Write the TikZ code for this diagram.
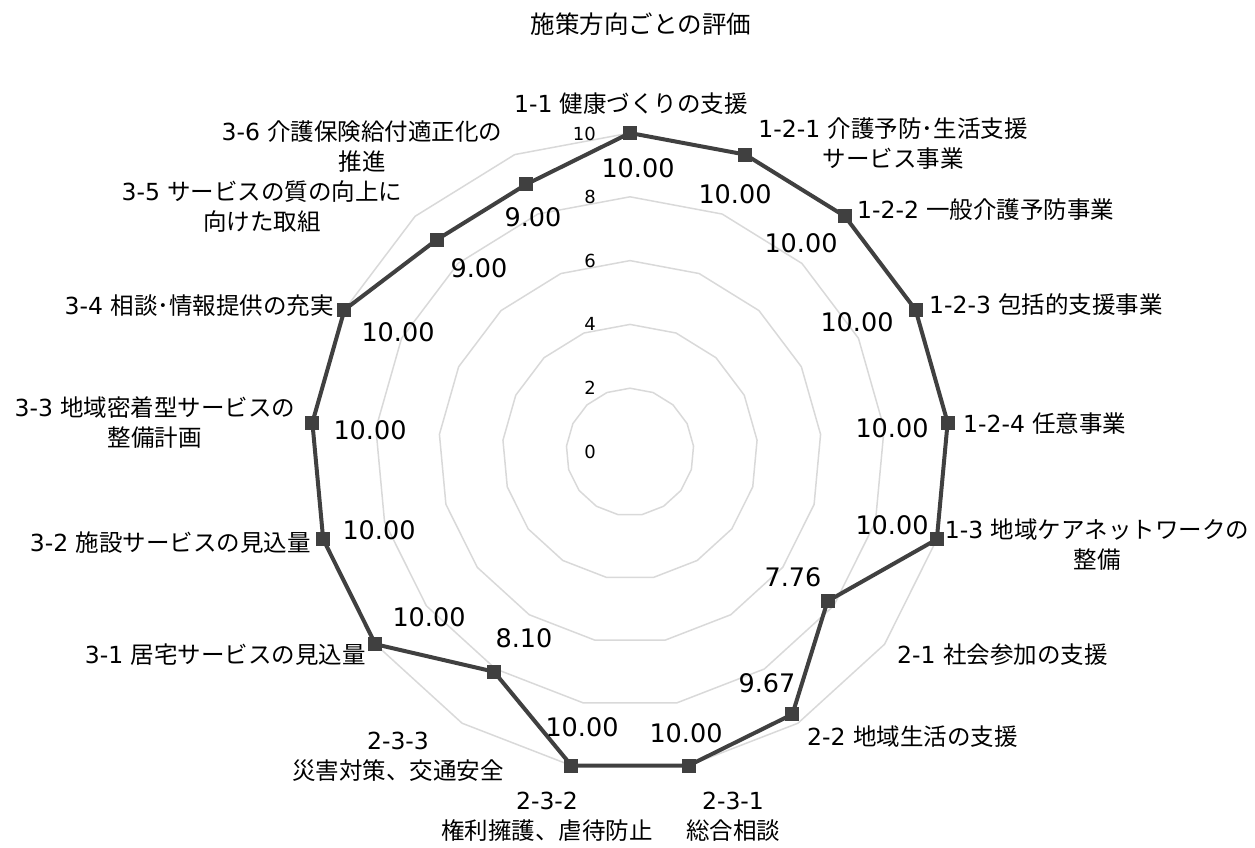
\documentclass[tikz,border=0pt]{standalone}
\usepackage{fontspec}
\setmainfont{DejaVu Sans}
\newfontfamily\jp{Noto Sans CJK JP}
\definecolor{gridc}{HTML}{D9D9D9}
\definecolor{datac}{HTML}{404040}
\begin{document}
\begin{tikzpicture}[x=1pt,y=-1pt,
  axislabel/.style={inner sep=0pt, align=center, font=\fontsize{23.5}{30}\selectfont, text=black},
  vallabel/.style={inner sep=0pt, font=\fontsize{25.5}{30}\selectfont, text=black},
  ticklabel/.style={inner sep=0pt, anchor=east, font=\fontsize{18}{20}\selectfont, text=black},
  titlestyle/.style={inner sep=0pt, font=\fontsize{24.5}{30}\selectfont, text=black},
  gridline/.style={draw=gridc, line width=1.5pt, line join=round},
  dataline/.style={draw=datac, line width=4pt, line join=round},
  marker/.style={fill=datac, minimum size=14pt, inner sep=0pt, rectangle}
]
\useasboundingbox (0,0) rectangle (1255,847);
\def\cx{630}\def\cy{452}\def\R{31.9}
% grid
\foreach \k in {2,4,6,8,10}{
  \draw[gridline] plot[samples at={0,...,16}] ({\cx+\k*\R*sin(\x*360/17)},{\cy-\k*\R*cos(\x*360/17)}) -- cycle;
}
% tick labels
\node[ticklabel] (t0) at (596,452) {0};
\node[ticklabel] (t2) at (596,388) {2};
\node[ticklabel] (t4) at (596,324) {4};
\node[ticklabel] (t6) at (596,261) {6};
\node[ticklabel] (t8) at (596,197) {8};
\node[ticklabel] (t10) at (596,134) {10};
% data
\foreach \v [count=\i from 0] in {10,10,10,10,10,10,7.76,9.67,10,10,8.10,10,10,10,10,9,9}{
  \coordinate (p\i) at ({\cx+\v*\R*sin(\i*360/17)},{\cy-\v*\R*cos(\i*360/17)});
}
\draw[dataline] (p0) \foreach \i in {1,...,16}{ -- (p\i)} -- cycle;
\foreach \i in {0,...,16}{ \node[marker] (m\i) at (p\i) {}; }
% value labels
\node[vallabel] (v0) at (638,168) {10.00};
\node[vallabel] (v1) at (735,194) {10.00};
\node[vallabel] (v2) at (801,243) {10.00};
\node[vallabel] (v3) at (857,322) {10.00};
\node[vallabel] (v4) at (892,428) {10.00};
\node[vallabel] (v5) at (892,525) {10.00};
\node[vallabel] (v6) at (793,577) {7.76};
\node[vallabel] (v7) at (767,683) {9.67};
\node[vallabel] (v8) at (686,733) {10.00};
\node[vallabel] (v9) at (582,727) {10.00};
\node[vallabel] (v10) at (524,638) {8.10};
\node[vallabel] (v11) at (429,617) {10.00};
\node[vallabel] (v12) at (379,530) {10.00};
\node[vallabel] (v13) at (370,430) {10.00};
\node[vallabel] (v14) at (398,332) {10.00};
\node[vallabel] (v15) at (479,268) {9.00};
\node[vallabel] (v16) at (533,217) {9.00};
% axis labels
\node[axislabel] (a0) at (631,104) {1-1 {\jp 健康づくりの支援}};
\node[axislabel] (a1) at (893,144) {1-2-1 {\jp 介護予防･生活支援}\\{\jp サービス事業}};
\node[axislabel, anchor=west] (a2) at (857,210) {1-2-2 {\jp 一般介護予防事業}};
\node[axislabel, anchor=west] (a3) at (929,305) {1-2-3 {\jp 包括的支援事業}};
\node[axislabel, anchor=west] (a4) at (963,424) {1-2-4 {\jp 任意事業}};
\node[axislabel] (a5) at (1097,545) {1-3 {\jp 地域ケアネットワークの}\\{\jp 整備}};
\node[axislabel, anchor=west] (a6) at (897,655) {2-1 {\jp 社会参加の支援}};
\node[axislabel, anchor=west] (a7) at (807,737) {2-2 {\jp 地域生活の支援}};
\node[axislabel] (a8) at (733,817) {2-3-1\\{\jp 総合相談}};
\node[axislabel] (a9) at (547,817) {2-3-2\\{\jp 権利擁護、虐待防止}};
\node[axislabel] (a10) at (398,757) {2-3-3\\{\jp 災害対策、交通安全}};
\node[axislabel, anchor=east] (a11) at (366,655) {3-1 {\jp 居宅サービスの見込量}};
\node[axislabel, anchor=east] (a12) at (311,543) {3-2 {\jp 施設サービスの見込量}};
\node[axislabel] (a13) at (155,423) {3-3 {\jp 地域密着型サービスの}\\{\jp 整備計画}};
\node[axislabel, anchor=east] (a14) at (334,306) {3-4 {\jp 相談･情報提供の充実}};
\node[axislabel] (a15) at (262,207) {3-5 {\jp サービスの質の向上に}\\{\jp 向けた取組}};
\node[axislabel] (a16) at (362,147) {3-6 {\jp 介護保険給付適正化の}\\{\jp 推進}};
% title
\node[titlestyle] (title) at (641,24) {\jp 施策方向ごとの評価};
\end{tikzpicture}
\end{document}
